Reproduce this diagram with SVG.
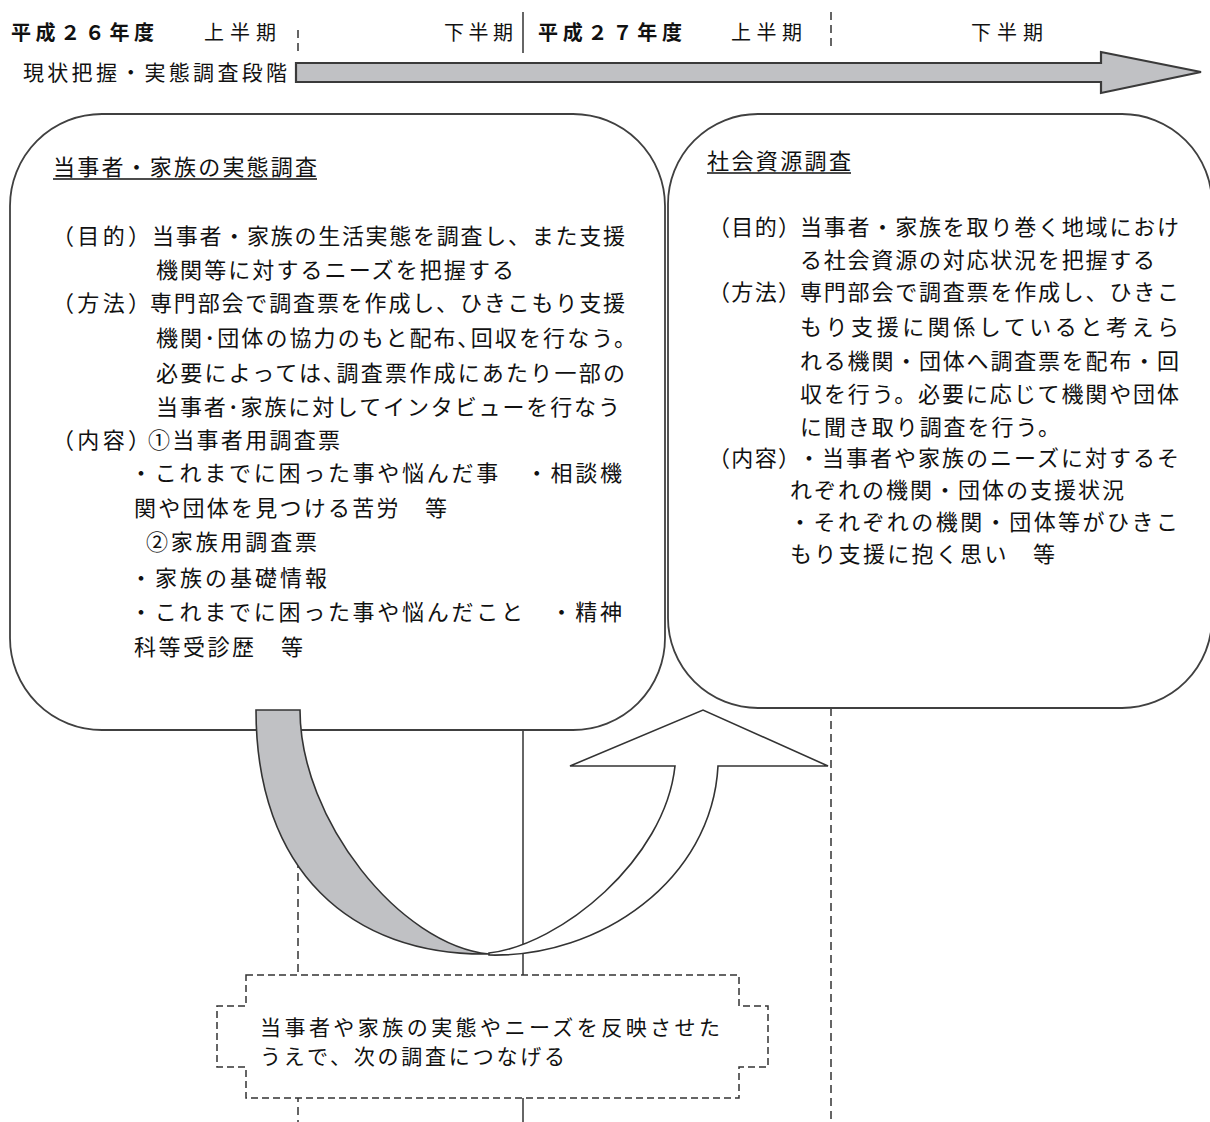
<svg xmlns="http://www.w3.org/2000/svg" width="1210" height="1122" viewBox="0 0 1210 1122">
<style>
.t{font-family:"Noto Sans CJK JP","Noto Sans CJK SC",sans-serif;font-size:22px;fill:#111}
.h{font-size:20px}
.b{font-weight:bold}
.box{fill:#fff;stroke:#404040;stroke-width:1.8}
.dash{stroke:#333;stroke-width:1.5;stroke-dasharray:8 5;fill:none}
.solid{stroke:#333;stroke-width:1.5;fill:none}
.ul{stroke:#111;stroke-width:1.4}
</style>
<rect width="1210" height="1122" fill="#fff"/>
<g id="header">
<text class="t h b" x="11" y="40" textLength="143" lengthAdjust="spacing">平成２６年度</text>
<text class="t h" x="204" y="40" textLength="72" lengthAdjust="spacing">上半期</text>
<text class="t h" x="444" y="40" textLength="69" lengthAdjust="spacing">下半期</text>
<text class="t h b" x="538" y="40" textLength="144" lengthAdjust="spacing">平成２７年度</text>
<text class="t h" x="731" y="40" textLength="71" lengthAdjust="spacing">上半期</text>
<text class="t h" x="971" y="40" textLength="72" lengthAdjust="spacing">下半期</text>
<text class="t" style="font-size:21px" x="23" y="80" textLength="264" lengthAdjust="spacing">現状把握・実態調査段階</text>
</g>
<g id="connectors">
<line class="dash" x1="298" y1="30" x2="298" y2="52"/>
<line class="solid" x1="523" y1="12" x2="523" y2="53"/>
<line class="dash" x1="831" y1="12" x2="831" y2="48"/>
<line class="dash" x1="298" y1="730" x2="298" y2="1122"/>
<line class="solid" x1="523" y1="730" x2="523" y2="1122"/>
<line class="dash" x1="831" y1="708" x2="831" y2="1122"/>
</g>
<g id="phase-arrow">
<path d="M296,63 H1101 V52 L1201,72 L1101,93 V82 H296 Z" fill="#c0c1c4" stroke="#3a3a3a" stroke-width="2.2" stroke-linejoin="miter"/>
</g>
<g id="node-family-survey">
<rect class="box" x="10" y="114" width="655" height="616" rx="92" ry="92"/>
<text class="t" x="53" y="175" textLength="264" lengthAdjust="spacing">当事者・家族の実態調査</text>
<line class="ul" x1="53" y1="179" x2="317" y2="179"/>
<text class="t" x="52" y="244" textLength="98" lengthAdjust="spacing">（目的）</text>
<text class="t" x="152" y="244" textLength="473" lengthAdjust="spacing">当事者・家族の生活実態を調査し、また支援</text>
<text class="t" x="156" y="278" textLength="358" lengthAdjust="spacing">機関等に対するニーズを把握する</text>
<text class="t" x="52" y="311" textLength="98" lengthAdjust="spacing">（方法）</text>
<text class="t" x="150" y="311" textLength="475" lengthAdjust="spacing">専門部会で調査票を作成し、ひきこもり支援</text>
<text class="t" x="156" y="346" textLength="480" lengthAdjust="spacing">機関･団体の協力のもと配布､回収を行なう。</text>
<text class="t" x="156" y="381" textLength="469" lengthAdjust="spacing">必要によっては､調査票作成にあたり一部の</text>
<text class="t" x="156" y="415" textLength="464" lengthAdjust="spacing">当事者･家族に対してインタビューを行なう</text>
<text class="t" x="52" y="448" textLength="98" lengthAdjust="spacing">（内容）</text>
<text class="t" x="148" y="448" textLength="192" lengthAdjust="spacing">①当事者用調査票</text>
<text class="t" x="130" y="481" textLength="492" lengthAdjust="spacing">・これまでに困った事や悩んだ事　・相談機</text>
<text class="t" x="134" y="516" textLength="313" lengthAdjust="spacing">関や団体を見つける苦労　等</text>
<text class="t" x="146" y="550" textLength="171" lengthAdjust="spacing">②家族用調査票</text>
<text class="t" x="130" y="586" textLength="197" lengthAdjust="spacing">・家族の基礎情報</text>
<text class="t" x="130" y="620" textLength="492" lengthAdjust="spacing">・これまでに困った事や悩んだこと　・精神</text>
<text class="t" x="134" y="655" textLength="169" lengthAdjust="spacing">科等受診歴　等</text>
</g>
<g id="node-resource-survey">
<rect class="box" x="668" y="114" width="544" height="594" rx="90" ry="90"/>
<text class="t" x="707" y="169" textLength="144" lengthAdjust="spacing">社会資源調査</text>
<line class="ul" x1="707" y1="173" x2="851" y2="173"/>
<text class="t" x="708" y="235" textLength="92" lengthAdjust="spacing">（目的）</text>
<text class="t" x="800" y="235" textLength="379" lengthAdjust="spacing">当事者・家族を取り巻く地域におけ</text>
<text class="t" x="800" y="268" textLength="355" lengthAdjust="spacing">る社会資源の対応状況を把握する</text>
<text class="t" x="708" y="300" textLength="92" lengthAdjust="spacing">（方法）</text>
<text class="t" x="800" y="300" textLength="379" lengthAdjust="spacing">専門部会で調査票を作成し、ひきこ</text>
<text class="t" x="800" y="335" textLength="379" lengthAdjust="spacing">もり支援に関係していると考えら</text>
<text class="t" x="800" y="369" textLength="379" lengthAdjust="spacing">れる機関・団体へ調査票を配布・回</text>
<text class="t" x="800" y="402" textLength="379" lengthAdjust="spacing">収を行う。必要に応じて機関や団体</text>
<text class="t" x="800" y="435" textLength="260" lengthAdjust="spacing">に聞き取り調査を行う。</text>
<text class="t" x="708" y="466" textLength="92" lengthAdjust="spacing">（内容）</text>
<text class="t" x="798" y="466" textLength="381" lengthAdjust="spacing">・当事者や家族のニーズに対するそ</text>
<text class="t" x="790" y="498" textLength="334" lengthAdjust="spacing">れぞれの機関・団体の支援状況</text>
<text class="t" x="789" y="530" textLength="389" lengthAdjust="spacing">・それぞれの機関・団体等がひきこ</text>
<text class="t" x="790" y="562" textLength="265" lengthAdjust="spacing">もり支援に抱く思い　等</text>
</g>
<g id="flow-arrows">
<path id="up-arrow" d="M489,955 C600,958 712,880 718,766 L828,766 L703,710 L570,766 L675,766 C665,860 560,945 489,953 Z" fill="#fff" stroke="#333" stroke-width="1.6" stroke-linejoin="miter"/>
<path id="down-arrow" d="M256,710 L300,710 C300,820 400,945 489,954 C350,956 256,870 256,710 Z" fill="#c0c1c4" stroke="#333" stroke-width="1.6"/>
</g>
<g id="node-next-step">
<path d="M246,975 H739 V1006 H768 V1067 H739 V1098 H246 V1067 H217 V1006 H246 Z" fill="#fff" stroke="#333" stroke-width="1.5" stroke-dasharray="7 4"/>
<text class="t" style="font-size:21px" x="260" y="1035" textLength="460" lengthAdjust="spacing">当事者や家族の実態やニーズを反映させた</text>
<text class="t" style="font-size:21px" x="260" y="1064" textLength="305" lengthAdjust="spacing">うえで、次の調査につなげる</text>
</g>
</svg>
